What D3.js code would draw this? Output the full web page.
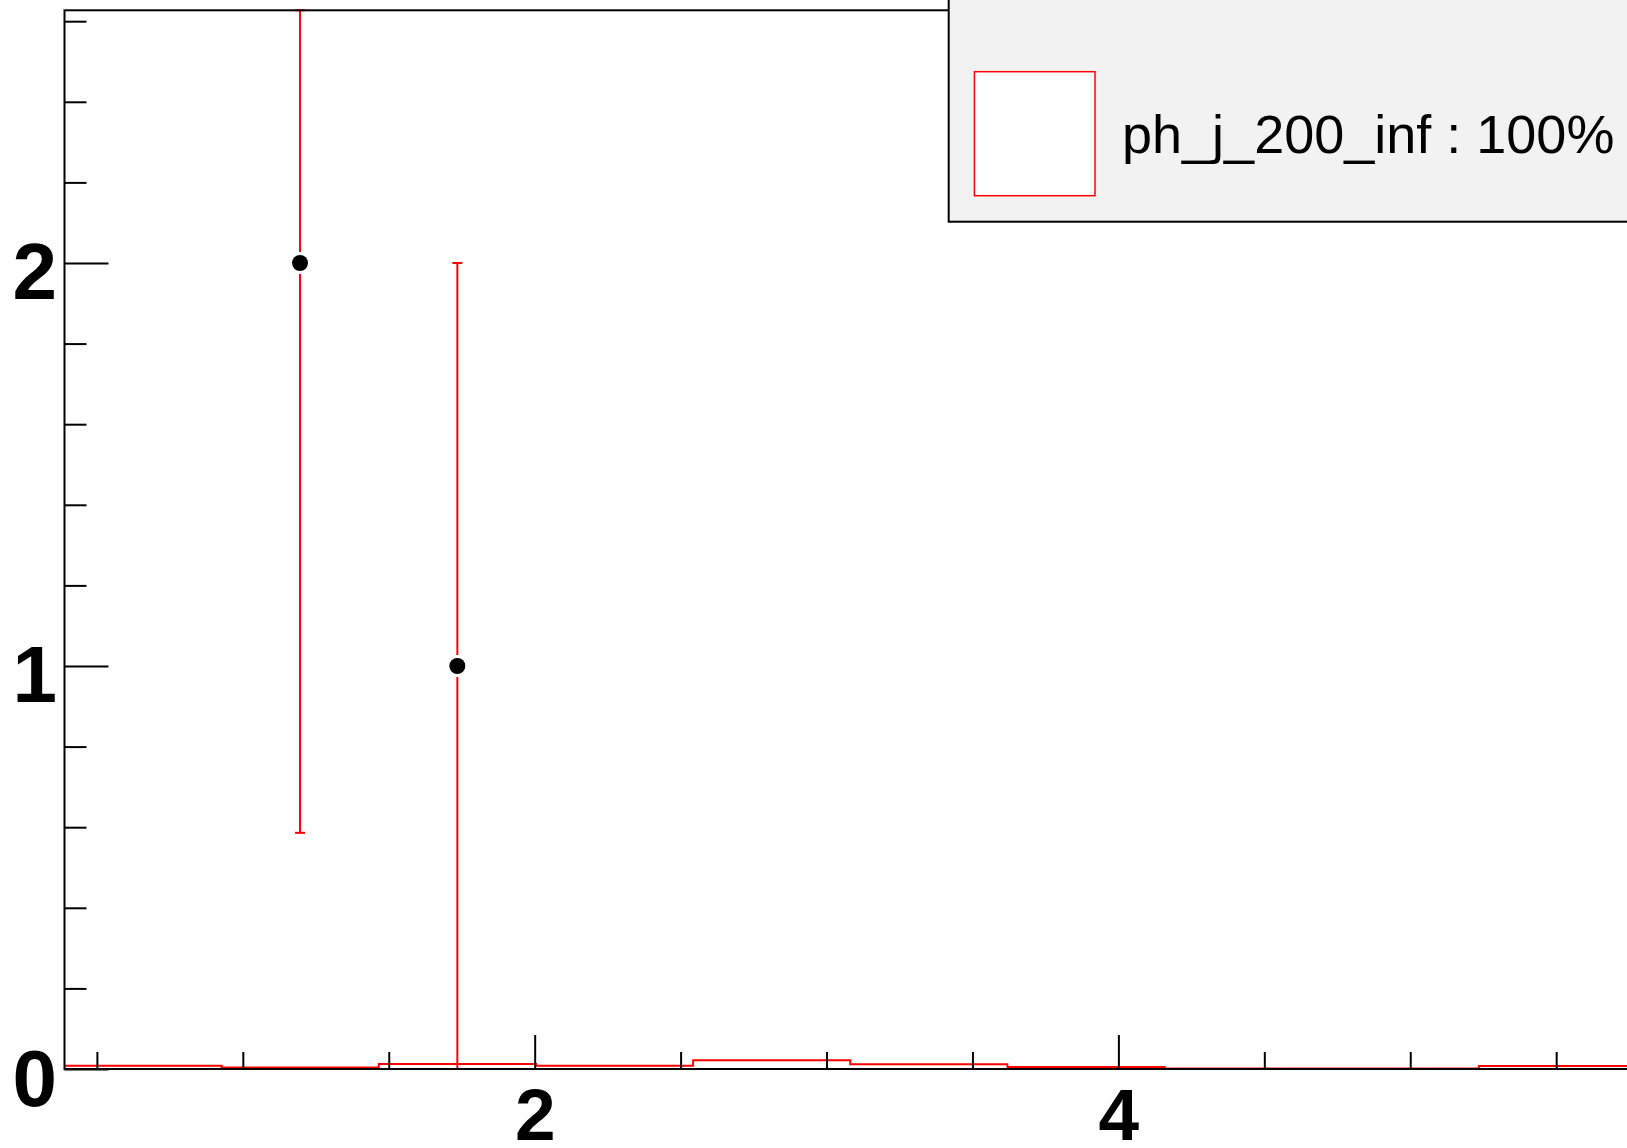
<!DOCTYPE html>
<html>
<head>
<meta charset="utf-8">
<script src="https://cdn.jsdelivr.net/npm/d3@7"></script>
<style>
  html, body { margin: 0; padding: 0; background: #ffffff; }
  svg { display: block; }
</style>
</head>
<body>
<script>
// ---------- data ----------
const binLowEdges = [0.389, 0.927, 1.466, 2.004, 2.543, 3.081, 3.620, 4.158, 4.697, 5.235];
const binWidth = 0.5385;
const histValues = [0.008, 0.004, 0.0125, 0.008, 0.022, 0.012, 0.005, 0.001, 0.001, 0.0075];
const pointX = [1.196, 1.735];
const pointY = [2, 1];
const pointErrLow = [1.414, 1];
const pointErrHigh = [1.414, 1];
const xMajorTicks = [2, 4];
const xMinorTicks = [0.5, 1, 1.5, 2.5, 3, 3.5, 4.5, 5, 5.5];
const yMajorTicks = [0, 1, 2];
const yMinorTicks = [0.2, 0.4, 0.6, 0.8, 1.2, 1.4, 1.6, 1.8, 2.2, 2.4, 2.6];
const legendLabel = "ph_j_200_inf : 100%";

// ---------- layout ----------
const W = 1627, H = 1148;
const mLeft = 64.5, mRight = 1636, mTop = 10.3, mBottom = 1069;
const xDomain = [0.389, 5.7735];
const yDomain = [0, 2.627];

const svg = d3.select("body").append("svg")
  .attr("width", W).attr("height", H)
  .style("font-family", "'Liberation Sans', Arial, Helvetica, sans-serif");

const x = d3.scaleLinear().domain(xDomain).range([mLeft, mRight]);
const y = d3.scaleLinear().domain(yDomain).range([mBottom, mTop]);
const yc = y.copy().clamp(true);

svg.append("defs").append("clipPath").attr("id", "frame")
  .append("rect").attr("x", mLeft).attr("y", mTop).attr("width", mRight - mLeft).attr("height", mBottom - mTop);

// histogram (step line)
const histPts = [];
binLowEdges.forEach((lo, i) => {
  histPts.push([x(lo), y(histValues[i])]);
  histPts.push([x(lo + binWidth), y(histValues[i])]);
});
svg.append("path")
  .attr("clip-path", "url(#frame)")
  .attr("d", d3.line()(histPts))
  .attr("fill", "none").attr("stroke", "#ff0000").attr("stroke-width", 2);

// error bars
const gap = 11, cap = 5;
const eb = svg.append("g").attr("stroke", "#ff0000").attr("stroke-width", 2);
pointX.forEach((px, i) => {
  const cx = x(px), cy = y(pointY[i]);
  const yHi = yc(pointY[i] + pointErrHigh[i]);
  const yLo = yc(pointY[i] - pointErrLow[i]);
  eb.append("line").attr("x1", cx).attr("x2", cx).attr("y1", yHi).attr("y2", cy - gap);
  eb.append("line").attr("x1", cx).attr("x2", cx).attr("y1", cy + gap).attr("y2", yLo);
  eb.append("line").attr("x1", cx - cap).attr("x2", cx + cap).attr("y1", yHi).attr("y2", yHi);
  eb.append("line").attr("x1", cx - cap).attr("x2", cx + cap).attr("y1", yLo).attr("y2", yLo);
});

// markers
svg.append("g").selectAll("circle").data(pointX).join("circle")
  .attr("cx", d => x(d)).attr("cy", (d, i) => y(pointY[i])).attr("r", 8)
  .attr("fill", "#000");

// axes
const xAxisMajor = d3.axisBottom(x).tickValues(xMajorTicks).tickSize(-34).tickPadding(19)
  .tickFormat(d3.format("d"));
const xAxisMinor = d3.axisBottom(x).tickValues(xMinorTicks).tickSize(-17).tickFormat("");
const yAxisMajor = d3.axisLeft(y).tickValues(yMajorTicks).tickSize(-44).tickPadding(7.5)
  .tickFormat(d3.format("d"));
const yAxisMinor = d3.axisLeft(y).tickValues(yMinorTicks).tickSize(-22).tickFormat("");

function styleAxis(g, fontSize, dy) {
  g.select(".domain").remove();
  g.selectAll(".tick line").attr("stroke", "#000").attr("stroke-width", 2);
  g.selectAll(".tick text").attr("fill", "#000")
    .style("font-size", fontSize + "px").style("font-weight", "bold")
    .style("font-family", "'Liberation Sans', Arial, Helvetica, sans-serif");
  if (dy) g.selectAll(".tick text").attr("dy", dy);
}
svg.append("g").attr("transform", `translate(0,${mBottom})`).call(xAxisMajor).call(g => styleAxis(g, 73));
svg.append("g").attr("transform", `translate(0,${mBottom})`).call(xAxisMinor).call(g => styleAxis(g, 73));
svg.append("g").attr("transform", `translate(${mLeft},0)`).call(yAxisMajor).call(g => styleAxis(g, 80, "0.45em"));
svg.append("g").attr("transform", `translate(${mLeft},0)`).call(yAxisMinor).call(g => styleAxis(g, 80));

// frame
svg.append("rect").attr("x", mLeft).attr("y", mTop).attr("width", mRight - mLeft).attr("height", mBottom - mTop)
  .attr("fill", "none").attr("stroke", "#000").attr("stroke-width", 2);

// legend
const lg = svg.append("g");
lg.append("rect").attr("x", 948.7).attr("y", -20).attr("width", 720).attr("height", 241.7)
  .attr("fill", "#f2f2f2").attr("stroke", "#000").attr("stroke-width", 2);
lg.append("rect").attr("x", 974.4).attr("y", 71.7).attr("width", 120.6).attr("height", 124)
  .attr("fill", "#fff").attr("stroke", "#ff0000").attr("stroke-width", 1.5);
lg.append("text").attr("x", 1122).attr("y", 153).text(legendLabel)
  .style("font-size", "54px").attr("fill", "#000");
</script>
</body>
</html>
